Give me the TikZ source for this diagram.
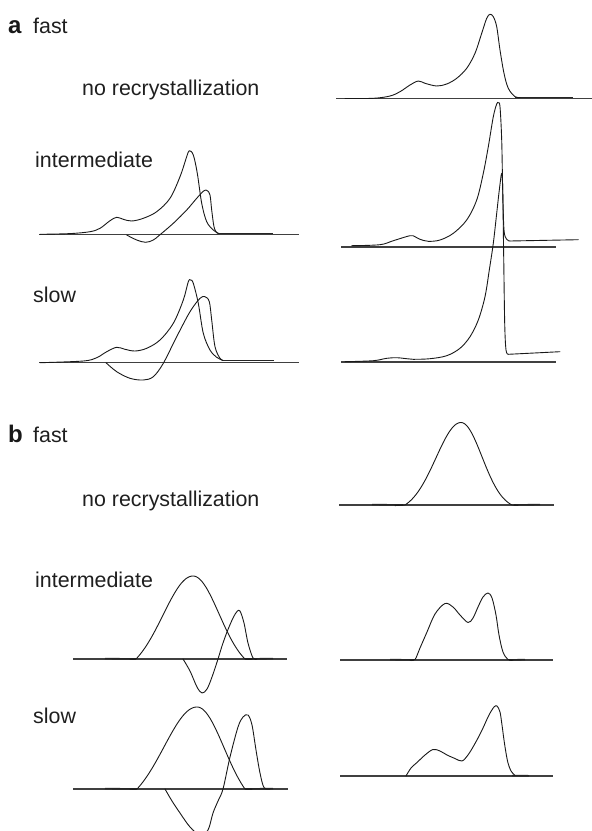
\documentclass[tikz,border=0pt]{standalone}
\usepackage{fontspec}
\setmainfont{Liberation Sans}
\begin{document}
\begin{tikzpicture}[x=1pt,y=-1pt]
\tikzset{
  curve/.style={line width=0.9pt, line join=round, line cap=round, draw=black!90},
  axisline/.style={line width=1.1pt, draw=black!75},
  tailline/.style={line width=1.6pt, draw=black!85},
  lbl/.style={anchor=base west, inner sep=0pt, text=black!88, font=\fontsize{21.4}{25}\selectfont},
  panel/.style={anchor=base west, inner sep=0pt, text=black!90, font=\fontsize{24}{28}\selectfont\bfseries},
  sm/.style={smooth, tension=0.55}
}
\useasboundingbox (0,0) rectangle (592,831);
\clip (0,0) rectangle (592,831);

% ---------------- labels ----------------
\node[panel] (pa) at (8,33) {a};
\node[lbl] (fa) at (33,33) {fast};
\node[lbl] (nra) at (82,95) {no recrystallization};
\node[lbl] (ina) at (35,167) {intermediate};
\node[lbl] (sla) at (33,302) {slow};

\node[panel] (pb) at (8,442) {b};
\node[lbl] (fb) at (33,442) {fast};
\node[lbl] (nrb) at (82,506) {no recrystallization};
\node[lbl] (inb) at (35,587) {intermediate};
\node[lbl] (slb) at (33,723) {slow};

% ---------------- panel a, left ----------------
% intermediate
\draw[axisline] (39,234.7) -- (299,234.7);
\draw[tailline] (218,233.4) -- (273,233.4);
\draw[curve] plot[sm] coordinates {(40,234.3) (70,233.6) (90,231.7) (100,228.3) (110,220.7) (116.7,217.3) (123.3,219.3) (131.7,221) (143.3,218.3) (156.7,211.7) (170,198.3) (180,176.7) (186.7,156.7) (189.3,150.7) (193.3,155) (197.3,173.3) (201.7,203.3) (206.7,221.7) (213.3,230) (218.3,233.3)};
\draw[curve] plot[sm] coordinates {(126.7,235) (136.7,240) (145.7,242.3) (153.3,240) (159.3,235.3) (173.3,223.3) (186.7,210) (196.7,198.3) (204,190.7) (207.3,190.7) (210,195) (211.7,210) (214,226.7) (216.7,232.7) (219,233.4)};
% slow
\draw[axisline] (39,362.7) -- (299,362.7);
\draw[tailline] (222,360.5) -- (274,360.5);
\draw[curve] plot[sm] coordinates {(40,362.7) (83.3,361) (96.7,357.7) (106.7,351.7) (116.7,347.3) (125,349.3) (135,351) (146.7,348.3) (160,340) (173.3,323.3) (183.3,300) (188.3,281.7) (190.7,280) (193.3,283.3) (198.3,303.3) (203.3,333.3) (210,350) (216.7,357.3) (222.7,360.3)};
\draw[curve] plot[sm] coordinates {(106,362.7) (116.7,371.7) (130,378.3) (143.3,380) (153.3,376.7) (163.3,363.3) (176.7,336.7) (190,311.7) (200,298.3) (205,296.7) (209.3,301.7) (211.7,320) (215,346.7) (220,358.3) (223,360.3)};

% ---------------- panel a, right ----------------
% no recrystallization
\draw[axisline] (336,98.7) -- (592,98.7);
\draw[tailline] (515,97.5) -- (573,97.5);
\draw[curve] plot[sm] coordinates {(345,98.5) (373.3,98.3) (390,96) (400,91.7) (410,85) (418.3,81) (425,83.3) (436.7,86) (446.7,84) (456.7,78.3) (466.7,68.3) (475,53.3) (481.7,33.3) (486.7,18.3) (490,14.3) (493.3,16.7) (496.7,26.7) (500,50) (504,73.3) (508.3,88.3) (515,96.7) (520,97.5)};
% intermediate
\draw[axisline] (341,247) -- (556,247);
\draw[curve] plot[sm] coordinates {(351.7,245.7) (380,244.7) (393.3,240.7) (410,235.7) (415,236.7) (420,239.3) (428.3,241.3) (440,240) (453.3,233.3) (466.7,220) (476.7,200) (483.3,173.3) (488.3,146.7) (493.3,116.7) (496.7,104) (498.3,102.7) (500,106.7) (501.7,140) (502.7,190) (504,230) (506.7,239.3) (510,241)};
\draw[curve] (510,241) -- (578.3,239.7);
% slow
\draw[axisline] (341,362) -- (556,362);
\draw[curve] plot[sm] coordinates {(345,361.7) (373.3,360.7) (386.7,358.3) (396.7,357.7) (406.7,358.7) (413.3,359.3) (430,358.7) (446.7,355.7) (460,348.3) (470,336.7) (478.3,320) (485,296.7) (489.3,270) (493.3,243.3) (496.7,213.3) (499.3,190) (501.7,173.3) (502.7,190) (503.7,256.7) (504.7,323.3) (506,350) (508.3,354.3)};
\draw[curve] (508.3,354.3) -- (560,351.7);

% ---------------- panel b, right ----------------
% no recrystallization
\draw[axisline] (339,505) -- (554,505);
\draw[tailline] (372,504.6) -- (403,505);
\draw[tailline] (514,505) -- (540,504.6);
\draw[curve] (395,505.6) -- (405,505)
  -- plot[domain=405:461, samples=45] (\x, {505 - 82.5*(exp(-1*((\x-461)^2)/1250) - exp(-3136/1250))/(1 - exp(-3136/1250))})
  -- plot[domain=461:512, samples=45] (\x, {505 - 82.5*(exp(-1*((\x-461)^2)/882) - exp(-2601/882))/(1 - exp(-2601/882))})
  -- (518,505.3);
% intermediate
\draw[axisline] (340,660) -- (553,660);
\draw[tailline] (390,659.6) -- (414,660);
\draw[tailline] (509,660) -- (525,659.6);
\draw[curve] plot[sm] coordinates {(410,660.2) (415,659.5) (420,648) (427,632) (435,614) (445,603.5) (453,607) (460,615) (468,622.5) (473,618) (478,607) (483,597) (488,593) (492,598) (496,615) (499,635) (503,652) (508,659.5) (513,660.2)};
% slow
\draw[axisline] (340,776) -- (553,776);
\draw[tailline] (512,775.6) -- (529,775.8);
\draw[curve] plot[sm] coordinates {(406,776) (411,768) (417,762.5) (425,755) (433,749.5) (440,751) (447,755) (455,758.5) (462,761) (468,755) (473,747) (478,738) (483,728) (489,715) (494,707) (497,706) (500,712) (502,725) (504,740) (506,753) (508,763) (511,771) (515,775.5)};

% ---------------- panel b, left ----------------
% intermediate
\draw[axisline] (73,659) -- (287,659);
\draw[tailline] (105,658.6) -- (136,659);
\draw[tailline] (245,659) -- (273,658.6);
\draw[curve] (130,659.2) -- (136,659)
  -- plot[domain=136:193, samples=45] (\x, {659 - 83*(exp(-1*((\x-193)^2)/1800) - exp(-3249/1800))/(1 - exp(-3249/1800))})
  -- plot[domain=193:245, samples=45] (\x, {659 - 83*(exp(-1*((\x-193)^2)/1352) - exp(-2704/1352))/(1 - exp(-2704/1352))})
  -- (252,659.2);
\draw[curve] plot[sm] coordinates {(183,659) (190,671) (197,687) (202,693) (207,689) (212,677) (218,659) (222,646) (227,632) (233,618) (237,611.5) (240,611) (244,623) (248,643) (253,658) (257,659)};
% slow
\draw[axisline] (73,789) -- (288,789);
\draw[tailline] (105,788.6) -- (137,789);
\draw[tailline] (245,789) -- (273,788.6);
\draw[curve] (130,789.2) -- (137,789)
  -- plot[domain=137:197, samples=45] (\x, {789 - 82*(exp(-1*((\x-197)^2)/2178) - exp(-3600/2178))/(1 - exp(-3600/2178))})
  -- plot[domain=197:245, samples=45] (\x, {789 - 82*(exp(-1*((\x-197)^2)/1458) - exp(-2304/1458))/(1 - exp(-2304/1458))})
  -- (252,789.2);
\draw[curve] plot[sm] coordinates {(165,789) (172,801) (180,813) (190,827) (200,835) (208,830) (213,813) (218,801) (223,789) (230,757) (238,727) (243,717) (248,715) (252,725) (256,750) (260,773) (264,787.5) (270,789)};
\end{tikzpicture}
\end{document}
